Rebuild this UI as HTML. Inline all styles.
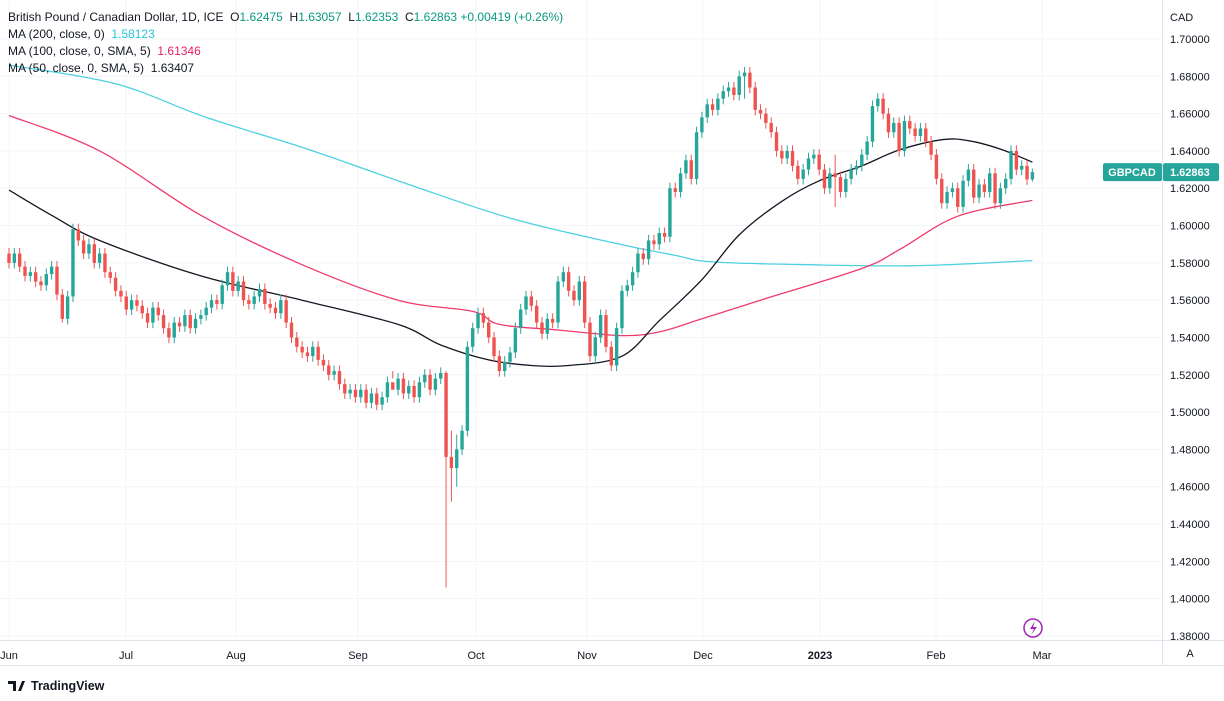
<!DOCTYPE html>
<html><head><meta charset="utf-8"><style>
body{margin:0;background:#fff;font-family:"Liberation Sans",sans-serif;}
#wrap{position:relative;width:1224px;height:701px;overflow:hidden;background:#fff}
.leg{position:absolute;left:8px;font-size:12px;color:#131722;white-space:nowrap}
</style></head><body>
<div id="wrap">
<svg id="svg" width="1224" height="701" style="position:absolute;left:0;top:0"></svg>
<div class="leg" style="top:10px">British Pound / Canadian Dollar, 1D, ICE &nbsp;<span style="color:#131722">O</span><span style="color:#089981">1.62475</span> &nbsp;H<span style="color:#089981">1.63057</span> &nbsp;L<span style="color:#089981">1.62353</span> &nbsp;C<span style="color:#089981">1.62863</span> <span style="color:#089981">+0.00419 (+0.26%)</span></div>
<div class="leg" style="top:27px">MA (200, close, 0) &nbsp;<span style="color:#26c6da">1.58123</span></div>
<div class="leg" style="top:44px">MA (100, close, 0, SMA, 5) &nbsp;<span style="color:#e91e63">1.61346</span></div>
<div class="leg" style="top:61px">MA (50, close, 0, SMA, 5) &nbsp;<span style="color:#131722">1.63407</span></div>
</div>
<script>
const closes=[1.580,1.585,1.578,1.573,1.575,1.570,1.568,1.574,1.578,1.563,1.550,1.562,1.598,1.592,1.585,1.590,1.580,1.585,1.575,1.572,1.565,
1.562,1.555,1.560,1.557,1.553,1.548,1.556,1.552,1.545,1.540,1.548,1.546,1.552,1.545,1.550,1.552,1.556,1.560,1.558,1.568,1.575,
1.565,1.570,1.560,1.558,1.562,1.566,1.558,1.556,1.553,1.560,1.548,1.540,1.535,1.532,1.530,1.535,1.528,1.525,1.520,1.522,1.515,1.510,1.512,
1.508,1.512,1.505,1.510,1.504,1.508,1.516,1.512,1.518,1.510,1.514,1.508,1.516,1.520,1.512,1.518,1.521,1.476,1.470,1.480,1.490,1.535,
1.545,1.553,1.548,1.540,1.530,1.522,1.527,1.532,1.545,1.555,1.562,1.557,1.548,1.542,1.550,1.548,1.570,1.575,1.565,1.560,1.570,
1.548,1.530,1.540,1.552,1.535,1.525,1.545,1.565,1.568,1.575,1.585,1.582,1.592,1.590,1.596,1.594,1.620,1.618,1.628,1.635,1.625,1.650,
1.658,1.665,1.662,1.668,1.672,1.674,1.670,1.680,1.682,1.674,1.662,1.660,1.655,1.650,1.640,1.636,1.640,1.632,1.625,1.630,1.636,
1.638,1.630,1.620,1.628,1.626,1.618,1.625,1.630,1.632,1.638,1.645,1.664,1.668,1.660,1.650,1.655,1.640,1.656,1.652,1.648,1.652,
1.645,1.638,1.625,1.612,1.618,1.620,1.610,1.624,1.630,1.615,1.622,1.618,1.628,1.612,1.620,1.625,1.640,1.630,1.632,1.62475,1.62863];
const firstOpen=1.585;
const extremeIdx=[82,83,84,10,72,138,155,192];
const extremeLow=[1.406,1.452,1.460,1.548,1.518,1.668,1.610,1.6235];
const extremeHigh=[1.522,1.490,1.488,1.566,1.522,1.685,1.638,1.63057];
const ma200X=[0,20,37,56,75,94,113,125,132,150,170,192];
const ma200V=[1.686,1.676,1.658,1.641,1.622,1.604,1.591,1.584,1.5805,1.579,1.5785,1.5812];
const ma100X=[0,17,36,55,73,87,92,103,115,122,130,141,160,167,178,192];
const ma100V=[1.659,1.640,1.6055,1.579,1.560,1.554,1.547,1.544,1.541,1.543,1.550,1.560,1.577,1.587,1.605,1.6135];
const ma50X=[0,8,17,36,55,73,81,90,98,105,115,122,130,137,145,152,160,167,175,180,186,192];
const ma50V=[1.619,1.6055,1.592,1.573,1.560,1.547,1.536,1.528,1.525,1.525,1.530,1.549,1.571,1.595,1.613,1.624,1.632,1.6405,1.646,1.6455,1.641,1.634];
const priceTicks=[1.70,1.68,1.66,1.64,1.62,1.60,1.58,1.56,1.54,1.52,1.50,1.48,1.46,1.44,1.42,1.40,1.38];
const monthLabels=["Jun","Jul","Aug","Sep","Oct","Nov","Dec","2023","Feb","Mar"];
const NS="http://www.w3.org/2000/svg";
const svg=document.getElementById('svg');
const y=p=>39+(1.70-p)*1865.6;
const x=i=>9+i*5.33;
function el(t,a,parent){const e=document.createElementNS(NS,t);for(const k in a)e.setAttribute(k,a[k]);(parent||svg).appendChild(e);return e;}
priceTicks.forEach((p,i)=>{const g=el('line',{x1:0,x2:1162,y1:y(p),y2:y(p),stroke:'#f2f4f8'});


const t=el('text',{x:1170,y:y(p)+4,'font-size':11,fill:'#131722','font-family':'Liberation Sans'});t.textContent=p.toFixed(5);

});
const mXs=[9,126,236,358,476,587,703,820,936,1042];
monthLabels.forEach((m,i)=>{const px=mXs[i];
const g=el('line',{x1:px,x2:px,y1:0,y2:640,stroke:'#f2f4f8'});


const t=el('text',{x:px,y:659,'font-size':11,fill:'#131722','text-anchor':'middle','font-weight':m==='2023'?'bold':'normal','font-family':'Liberation Sans'});t.textContent=m;

});
const a1=el('line',{x1:1162.5,x2:1162.5,y1:0,y2:665,stroke:'#e0e3eb'});


const a2=el('line',{x1:0,x2:1224,y1:640.5,y2:640.5,stroke:'#e0e3eb'});


const a3=el('line',{x1:0,x2:1224,y1:665.5,y2:665.5,stroke:'#e0e3eb'});


const cad=el('text',{x:1170,y:21,'font-size':11,fill:'#131722','font-family':'Liberation Sans'});cad.textContent='CAD';


function ma(X,V,col,name){const P=X.map((b,i)=>[x(b),y(V[i])]);
let d='M'+P[0][0].toFixed(1)+' '+P[0][1].toFixed(1);
for(let i=0;i<P.length-1;i++){const p0=P[Math.max(0,i-1)],p1=P[i],p2=P[i+1],p3=P[Math.min(P.length-1,i+2)];
const c1=[p1[0]+(p2[0]-p0[0])/6,p1[1]+(p2[1]-p0[1])/6],c2=[p2[0]-(p3[0]-p1[0])/6,p2[1]-(p3[1]-p1[1])/6];
d+=' C'+c1[0].toFixed(1)+' '+c1[1].toFixed(1)+' '+c2[0].toFixed(1)+' '+c2[1].toFixed(1)+' '+p2[0].toFixed(1)+' '+p2[1].toFixed(1);}
const p=el('path',{d:d,fill:'none',stroke:col,'stroke-width':1.3});

}
ma(ma200X,ma200V,'#4dd0e1','ma200-line');
ma(ma100X,ma100V,'#f23a6a','ma100-line');
ma(ma50X,ma50V,'#131722','ma50-line');
closes.forEach((c,i)=>{const o=i?closes[i-1]:firstOpen;const up=c>=o;const col=up?'#26a69a':'#ef5350';
let hi=Math.max(o,c)+0.003,lo=Math.min(o,c)-0.003;const k=extremeIdx.indexOf(i);if(k>=0){hi=extremeHigh[k];lo=extremeLow[k];}
const cx=x(i);
const w=el('line',{x1:cx,x2:cx,y1:y(hi),y2:y(lo),stroke:col,'stroke-width':1});


const top=y(Math.max(o,c)),h=Math.max(1,y(Math.min(o,c))-top);
const b=el('rect',{x:cx-1.7,y:top,width:3.4,height:h,fill:col});

});
const last=closes[closes.length-1];const ly=y(last);
const r1=el('rect',{x:1103,y:ly-9,width:59,height:18,rx:2,fill:'#26a69a'});


const t1=el('text',{x:1132,y:ly+4,'font-size':11,fill:'#fff','text-anchor':'middle','font-weight':'bold','font-family':'Liberation Sans'});t1.textContent='GBPCAD';


const r2=el('rect',{x:1163,y:ly-9,width:56,height:18,rx:2,fill:'#26a69a'});


const t2=el('text',{x:1170,y:ly+4,'font-size':11,fill:'#fff','font-weight':'bold','font-family':'Liberation Sans'});t2.textContent=last.toFixed(5);


const ic=el('circle',{cx:1033,cy:628,r:9,fill:'#fff',stroke:'#9c27b0','stroke-width':1.5});


const bolt=el('path',{d:'M1035 621 L1030 629 L1034 629 L1031 635 L1037 627 L1033 627 Z',fill:'#9c27b0'});


const ab=el('text',{x:1190,y:657,'font-size':11,fill:'#131722','text-anchor':'middle','font-family':'Liberation Sans'});ab.textContent='A';


const logo=el('path',{d:'M8 681 h8 v10 h-3 v-7 h-5 z M18 691 l4 -10 h3 l-4 10 z',fill:'#131722'});


const lt=el('text',{x:31,y:690,'font-size':12.5,fill:'#131722','font-family':'Liberation Sans','font-weight':'bold'});lt.textContent='TradingView';


</script>
</body></html>
